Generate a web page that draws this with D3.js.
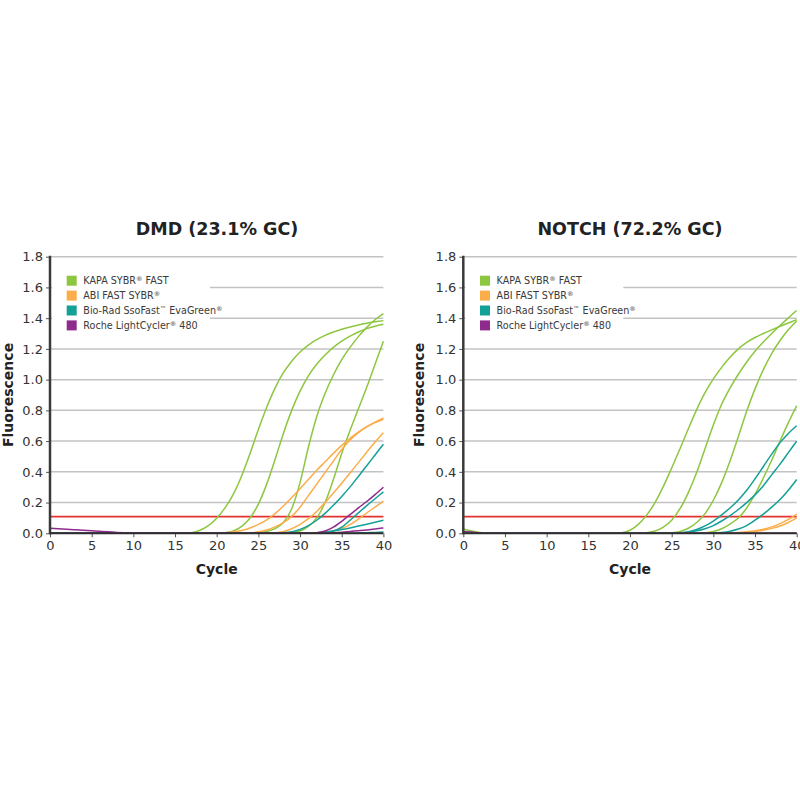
<!DOCTYPE html>
<html><head><meta charset="utf-8">
<script src="https://cdn.jsdelivr.net/npm/d3@7"></script>
<style>body{margin:0;background:#fff}svg{display:block}</style>
</head><body>
<svg id="c" width="800" height="800"></svg>
<script>
// ---------- DATA ----------
const cycles = [0,1,2,3,4,5,6,7,8,9,10,11,12,13,14,15,16,17,18,19,20,21,22,23,24,25,26,27,28,29,30,31,32,33,34,35,36,37,38,39,40];
const xTickValues = [0,5,10,15,20,25,30,35,40];
const yTickValues = [0,0.2,0.4,0.6,0.8,1.0,1.2,1.4,1.6,1.8];
const thresholdValue = 0.108;
const chartTitles = ["DMD (23.1% GC)", "NOTCH (72.2% GC)"];
const legendNames = ["KAPA SYBR® FAST", "ABI FAST SYBR®", "Bio-Rad SsoFast™ EvaGreen®", "Roche LightCycler® 480"];
const legendColors = ["#8dc63f", "#fbad4a", "#13a096", "#8f2b8c"];
const xLabel = "Cycle";
const yLabel = "Fluorescence";

// DMD (left) — fluorescence per cycle 0..40
const dmdKapa = [
  [0,0,0,0,0,0,0,0,0,0, 0,0,0,0,0,0,0, 0.004,0.02,0.05,0.098,0.165,0.255,0.375,0.52,0.675,0.82,0.945,1.045,1.12,1.18,1.225,1.26,1.288,1.31,1.328,1.343,1.356,1.367,1.376,1.384],
  [0,0,0,0,0,0,0,0,0,0, 0,0,0,0,0,0,0,0,0,0, 0, 0.003,0.015,0.045,0.1,0.19,0.32,0.48,0.65,0.8,0.925,1.025,1.1,1.16,1.21,1.25,1.283,1.31,1.332,1.348,1.36],
  [0,0,0,0,0,0,0,0,0,0, 0,0,0,0,0,0,0,0,0,0, 0,0,0,0,0, 0.003,0.012,0.03,0.07,0.16,0.33,0.56,0.76,0.91,1.03,1.13,1.21,1.28,1.34,1.39,1.43],
  [0,0,0,0,0,0,0,0,0,0, 0,0,0,0,0,0,0,0,0,0, 0,0,0,0,0,0,0,0,0, 0.004,0.015,0.045,0.1,0.2,0.35,0.52,0.67,0.81,0.95,1.1,1.25]
];
const dmdAbi = [
  [0,0,0,0,0,0,0,0,0,0, 0,0,0,0,0,0,0,0,0,0, 0, 0.003,0.008,0.018,0.035,0.058,0.088,0.128,0.178,0.233,0.29,0.35,0.41,0.465,0.52,0.572,0.618,0.658,0.694,0.724,0.75],
  [0,0,0,0,0,0,0,0,0,0, 0,0,0,0,0,0,0,0,0,0, 0,0,0,0, 0.003,0.01,0.022,0.042,0.07,0.11,0.17,0.245,0.32,0.395,0.47,0.545,0.607,0.655,0.692,0.72,0.742],
  [0,0,0,0,0,0,0,0,0,0, 0,0,0,0,0,0,0,0,0,0, 0,0,0,0,0,0,0, 0.003,0.012,0.03,0.058,0.095,0.142,0.2,0.262,0.326,0.392,0.46,0.528,0.594,0.655],
  [0,0,0,0,0,0,0,0,0,0, 0,0,0,0,0,0,0,0,0,0, 0,0,0,0,0,0,0,0,0,0, 0,0, 0.003,0.008,0.017,0.032,0.056,0.092,0.132,0.171,0.21]
];
const dmdBio = [
  [0,0,0,0,0,0,0,0,0,0, 0,0,0,0,0,0,0,0,0,0, 0,0,0,0,0,0,0,0, 0.003,0.01,0.025,0.05,0.085,0.13,0.182,0.24,0.302,0.37,0.44,0.51,0.58],
  [0,0,0,0,0,0,0,0,0,0, 0,0,0,0,0,0,0,0,0,0, 0,0,0,0,0,0,0,0,0,0, 0,0,0, 0.004,0.015,0.04,0.085,0.133,0.18,0.225,0.27],
  [0,0,0,0,0,0,0,0,0,0, 0,0,0,0,0,0,0,0,0,0, 0,0,0,0,0,0,0,0,0,0, 0,0, 0.003,0.008,0.015,0.024,0.035,0.047,0.059,0.072,0.085],
  [0,0,0,0,0,0,0,0,0,0, 0,0,0,0,0,0,0,0,0,0, 0,0,0,0,0,0,0,0,0,0, 0,0,0,0,0,0, 0.001,0.002,0.004,0.006,0.008]
];
const dmdRoche = [
  [0.033,0.03,0.026,0.023,0.02,0.016,0.013,0.01,0.006,0.003, 0,0,0,0,0,0,0,0,0,0, 0,0,0,0,0,0,0,0,0,0, 0,0, 0.003,0.015,0.04,0.078,0.122,0.165,0.207,0.252,0.3],
  [0,0,0,0,0,0,0,0,0,0, 0,0,0,0,0,0,0,0,0,0, 0,0,0,0,0,0,0,0,0,0, 0,0,0,0, 0.003,0.007,0.012,0.017,0.022,0.028,0.035]
];

// NOTCH (right)
const notchKapa = [
  [0.028,0.015,0.006,0.001, 0,0,0,0,0,0, 0,0,0,0,0,0,0,0,0, 0.004,0.02,0.058,0.118,0.2,0.305,0.425,0.55,0.68,0.805,0.915,1.005,1.08,1.145,1.2,1.242,1.274,1.3,1.324,1.347,1.369,1.39],
  [0,0,0,0,0,0,0,0,0,0, 0,0,0,0,0,0,0,0,0,0, 0,0, 0.004,0.015,0.04,0.085,0.16,0.265,0.395,0.55,0.705,0.84,0.945,1.035,1.115,1.185,1.245,1.3,1.352,1.402,1.45],
  [0,0,0,0,0,0,0,0,0,0, 0,0,0,0,0,0,0,0,0,0, 0,0,0,0,0, 0.003,0.012,0.033,0.07,0.128,0.215,0.33,0.47,0.63,0.795,0.94,1.065,1.17,1.255,1.325,1.38],
  [0,0,0,0,0,0,0,0,0,0, 0,0,0,0,0,0,0,0,0,0, 0,0,0,0,0,0,0,0,0, 0.003,0.012,0.03,0.06,0.1,0.165,0.255,0.36,0.475,0.6,0.72,0.83]
];
const notchAbi = [
  [0,0,0,0,0,0,0,0,0,0, 0,0,0,0,0,0,0,0,0,0, 0,0,0,0,0,0,0,0,0,0, 0,0, 0.002,0.005,0.01,0.017,0.027,0.042,0.063,0.09,0.125],
  [0,0,0,0,0,0,0,0,0,0, 0,0,0,0,0,0,0,0,0,0, 0,0,0,0,0,0,0,0,0,0, 0,0,0, 0.002,0.006,0.012,0.02,0.032,0.048,0.07,0.1]
];
const notchBio = [
  [0,0,0,0,0,0,0,0,0,0, 0,0,0,0,0,0,0,0,0,0, 0,0,0,0,0,0, 0.003,0.01,0.025,0.048,0.08,0.12,0.165,0.217,0.28,0.355,0.435,0.515,0.59,0.65,0.7],
  [0,0,0,0,0,0,0,0,0,0, 0,0,0,0,0,0,0,0,0,0, 0,0,0,0,0,0, 0.002,0.007,0.016,0.03,0.05,0.08,0.115,0.155,0.2,0.25,0.31,0.38,0.45,0.525,0.6],
  [0,0,0,0,0,0,0,0,0,0, 0,0,0,0,0,0,0,0,0,0, 0,0,0,0,0,0,0,0,0,0, 0.002,0.006,0.014,0.028,0.05,0.085,0.125,0.17,0.22,0.28,0.35]
];
const notchRoche = [
  [0.012,0.008,0.003, 0,0,0,0,0,0,0, 0,0,0,0,0,0,0,0,0,0, 0,0,0,0,0,0,0,0,0,0, 0,0,0,0,0,0,0,0,0,0, 0]
];

// ---------- DRAW ----------
const svg = d3.select("#c");
const FONT = "'DejaVu Sans', Verdana, sans-serif";
const panels = [
  {title: chartTitles[0], groups: [dmdKapa, dmdAbi, dmdBio, dmdRoche], x0: 50, titleX: 217, yLabX: 8},
  {title: chartTitles[1], groups: [notchKapa, notchAbi, notchBio, notchRoche], x0: 463.3, titleX: 630, yLabX: 419}
];
const plotW = 333.4, yTop = 256.7, yBot = 533.3;

panels.forEach(p => {
  const x = d3.scaleLinear().domain([0, 40]).range([p.x0, p.x0 + plotW]);
  const y = d3.scaleLinear().domain([0, 1.8]).range([yBot, yTop]);
  const g = svg.append("g");

  // gridlines
  g.selectAll("line.grid").data(yTickValues.filter(v => v > 0)).join("line")
    .attr("x1", x(0)).attr("x2", x(40)).attr("y1", d => y(d)).attr("y2", d => y(d))
    .attr("stroke", "#c3c3c3").attr("stroke-width", 1.5);

  // legend background + legend
  g.append("rect").attr("x", x(0) + 2).attr("y", y(1.76)).attr("width", 158).attr("height", y(1.28) - y(1.76)).attr("fill", "#fff");
  const lg = g.append("g").attr("transform", `translate(${x(0) + 16.7},${y(1.8) + 24})`);
  legendNames.forEach((name, i) => {
    const row = lg.append("g").attr("transform", `translate(0,${i * 14.9})`);
    row.append("rect").attr("x", 0).attr("y", -5).attr("width", 10).attr("height", 10).attr("fill", legendColors[i]);
    const t = row.append("text").attr("x", 16.6).attr("y", 3.6)
      .attr("font-family", FONT).attr("font-size", 9.6).attr("fill", "#3a3a3a");
    const parts = name.split(/([®™])/).filter(s => s.length);
    let raised = false;
    parts.forEach(s => {
      if (s === "®" || s === "™") {
        t.append("tspan").attr("font-size", 6.5).attr("dy", -3).text(s);
        raised = true;
      } else {
        const ts = t.append("tspan").text(s);
        if (raised) { ts.attr("dy", 3); raised = false; }
      }
    });
  });

  // threshold
  g.append("line").attr("x1", x(0)).attr("x2", x(40)).attr("y1", y(thresholdValue)).attr("y2", y(thresholdValue))
    .attr("stroke", "#e2322f").attr("stroke-width", 1.8);

  // curves
  const line = d3.line().x((d, i) => x(cycles[i])).y(d => y(d)).curve(d3.curveMonotoneX);
  p.groups.forEach((grp, gi) => {
    grp.forEach(vals => {
      g.append("path").attr("d", line(vals)).attr("fill", "none")
        .attr("stroke", legendColors[gi]).attr("stroke-width", 1.5);
    });
  });

  // axes
  const yAxis = d3.axisLeft(y).tickValues(yTickValues).tickFormat(d3.format(".1f")).tickSize(4).tickPadding(3);
  const ya = g.append("g").attr("transform", `translate(${x(0)},0)`).call(yAxis);
  const xAxis = d3.axisBottom(x).tickValues(xTickValues).tickSize(4).tickPadding(3);
  const xa = g.append("g").attr("transform", `translate(0,${yBot})`).call(xAxis);
  [ya, xa].forEach(a => {
    a.select(".domain").remove();
    a.selectAll(".tick line").attr("stroke", "#555").attr("stroke-width", 1);
    a.selectAll(".tick text").attr("font-family", FONT).attr("font-size", 13).attr("fill", "#333");
  });
  g.append("line").attr("x1", x(0)).attr("x2", x(0)).attr("y1", yTop - 1).attr("y2", yBot + 1)
    .attr("stroke", "#3a3a3a").attr("stroke-width", 2.5);
  g.append("line").attr("x1", x(0)).attr("x2", x(40)).attr("y1", yBot).attr("y2", yBot)
    .attr("stroke", "#2e2e2e").attr("stroke-width", 2);

  // titles and axis labels
  g.append("text").attr("x", p.titleX).attr("y", 235).attr("text-anchor", "middle")
    .attr("font-family", FONT).attr("font-weight", "bold").attr("font-size", 17.5).attr("fill", "#222").text(p.title);
  g.append("text").attr("x", x(20)).attr("y", 574).attr("text-anchor", "middle")
    .attr("font-family", FONT).attr("font-weight", "bold").attr("font-size", 14).attr("fill", "#222").text(xLabel);
  g.append("text").attr("transform", `translate(${p.yLabX},395) rotate(-90)`).attr("text-anchor", "middle")
    .attr("dominant-baseline", "central")
    .attr("font-family", FONT).attr("font-weight", "bold").attr("font-size", 14).attr("fill", "#222").text(yLabel);
});
</script>
</body></html>
